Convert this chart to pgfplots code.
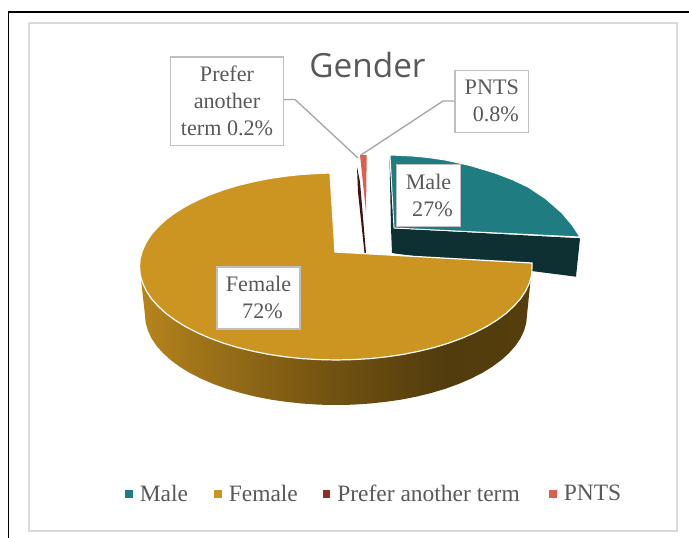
\documentclass[border=0pt]{standalone}
\usepackage{fontspec}
\setmainfont{Liberation Serif}
\newfontfamily\titlefont{Open Sans}
\usepackage{pgfplots}
\pgfplotsset{compat=1.18}
\definecolor{maleC}{HTML}{1F7D82}
\definecolor{maleD}{HTML}{0E3032}
\definecolor{femC}{HTML}{CC9420}
\definecolor{prefC}{HTML}{8B2E26}
\definecolor{prefD}{HTML}{3B1512}
\definecolor{pntsC}{HTML}{D9604C}
\definecolor{txtC}{HTML}{595959}
\definecolor{boxC}{HTML}{BFBFBF}
\definecolor{leadC}{HTML}{A6A6A6}
\definecolor{frameC}{HTML}{D9D9D9}
\pgfdeclarehorizontalshading{femside}{100bp}{
  color(0bp)=(femC!90!black);
  color(25bp)=(femC!90!black);
  color(31bp)=(femC!80!black);
  color(50bp)=(femC!55!black);
  color(64bp)=(femC!40!black);
  color(75bp)=(femC!42!black);
  color(100bp)=(femC!42!black)}
\newcommand{\boxfont}{\fontsize{16.6}{20.25}\selectfont}

\begin{document}
\begin{tikzpicture}
\begin{axis}[
  scale only axis, width=516.75pt, height=403.5pt,
  xmin=0, xmax=689, ymin=0, ymax=538, y dir=reverse,
  hide axis, clip=true,
  legend columns=4,
  legend cell align=left,
  legend style={at={(axis cs:125,494)}, anchor=west, draw=none, fill=none,
    inner sep=0pt, outer sep=0pt,
    font=\fontsize{17.6}{20}\selectfont\color{txtC},
    /tikz/column 1/.style={column sep=3.5pt},
    /tikz/column 2/.style={column sep=17.5pt},
    /tikz/column 3/.style={column sep=3.5pt},
    /tikz/column 4/.style={column sep=16.5pt},
    /tikz/column 5/.style={column sep=3.5pt},
    /tikz/column 6/.style={column sep=20pt},
    /tikz/column 7/.style={column sep=3.5pt}},
]
% page extent
\addplot[forget plot, draw=none] coordinates {(0,0)(689,538)};
% frames
\addplot[forget plot, black, line width=1.1pt] coordinates {(8.5,538)(8.5,12)(689,12)};
\addplot[forget plot, frameC, line width=1.2pt] coordinates {(29,23)(677,23)(677,531)(29,531)(29,23)};

% Male wedge
\addplot[forget plot, fill=maleD, draw=none] coordinates {(393.3,228.3)(580,238.3)(576,276.7)(393.3,253.3)};
\addplot[forget plot, fill=maleD, draw=none] coordinates {(389.5,157)(391,228)(392,253)(394,253)(394,228)};
\addplot[forget plot, fill=maleC, draw=white, line width=0.7pt] coordinates {
  (390,155)(412,156)(428,157.5)(445,160)(470,165.5)(495,173)(512,179.5)(528,187)(546,199)(562,213)(572,225)(580,237)
  (394,228)(390,155)};

% Female side wall and top
\addplot[forget plot, shading=femside, draw=none] coordinates {
  (139.5,266.5)(145,315)(145.7,322.8)(147.9,330.6)(151.5,338.3)(156.5,345.8)(162.9,353)(170.6,360)(179.5,366.6)
  (189.7,372.9)(200.9,378.6)(213.2,383.9)(226.4,388.7)(240.5,392.9)(255.3,396.6)(270.7,399.6)(286.6,401.9)
  (302.8,403.6)(319.3,404.7)(336,405)(352.7,404.7)(369.2,403.6)(385.4,401.9)(401.3,399.6)(416.7,396.6)
  (431.5,392.9)(445.6,388.7)(458.8,383.9)(471.1,378.6)(482.3,372.9)(492.5,366.6)(501.4,360)(509.1,353)
  (515.5,345.8)(520.5,338.3)(524.1,330.6)(526.3,322.8)(527,315)(532,266)};
\addplot[forget plot, fill=femC, draw=white, line width=0.9pt] coordinates {
  (330,173)(318.9,173.4)(301.9,174.4)(285.1,176.2)(268.8,178.6)(253,181.8)(237.7,185.5)(223.3,189.9)(209.7,194.9)
  (197.1,200.4)(185.5,206.4)(175,212.9)(165.8,219.7)(157.9,227)(151.3,234.5)(146.2,242.3)(142.5,250.3)(140.2,258.3)
  (139.5,266.5)(140.2,274.7)(142.5,282.7)(146.2,290.7)(151.3,298.5)(157.9,306)(165.8,313.3)(175,320.1)(185.5,326.6)
  (197.1,332.6)(209.7,338.1)(223.3,343.1)(237.7,347.5)(253,351.2)(268.8,354.4)(285.1,356.8)(301.9,358.6)(318.9,359.6)
  (336,360)(353.1,359.6)(370.1,358.6)(386.9,356.8)(403.2,354.4)(419,351.2)(434.3,347.5)(448.7,343.1)(462.3,338.1)
  (474.9,332.6)(486.5,326.6)(497,320.1)(506.2,313.3)(514.1,306)(520.7,298.5)(525.8,290.7)(529.5,282.7)(531.8,274.7)
  (532,263)(335,252)(330,173)};

% thin wedges
\addplot[forget plot, fill=prefD, draw=none] coordinates {(357,167)(360,182)(366,253)(364.5,253)(358,192)};
\addplot[forget plot, fill=pntsC, draw=none] coordinates {(360,155)(366.7,155)(366,212)};

% leader lines
\addplot[forget plot, leadC, line width=1pt] coordinates {(284,99.5)(295,99.5)(358,158)};
\addplot[forget plot, leadC, line width=1pt] coordinates {(455,101)(443,101)(361,155)};

\addlegendimage{legend image code/.code={\fill[maleC] (0pt,-2.6pt) rectangle (5.2pt,2.6pt);}}
\addlegendimage{legend image code/.code={\fill[femC] (0pt,-2.6pt) rectangle (5.2pt,2.6pt);}}
\addlegendimage{legend image code/.code={\fill[prefC] (0pt,-2.6pt) rectangle (5.2pt,2.6pt);}}
\addlegendimage{legend image code/.code={\fill[pntsC] (0pt,-2.6pt) rectangle (5.2pt,2.6pt);}}
\legend{Male, Female, Prefer another term, PNTS}

% title and data labels
\node[font=\titlefont\fontsize{25}{30}\selectfont, text=txtC] at (axis cs:367.5,65) {Gender};

\node[draw=boxC, line width=1.1pt, fill=white, minimum width=84.5pt, minimum height=66.5pt, inner sep=0pt,
  align=center, text=txtC, font=\boxfont] at (axis cs:227,101.2) {Prefer\\another\\term 0.2\%};
\node[draw=boxC, line width=1.1pt, fill=white, minimum width=55pt, minimum height=46.5pt, inner sep=0pt,
  align=center, text=txtC, font=\boxfont] at (axis cs:491.8,101.3) {PNTS\\\hspace*{6pt}0.8\%};
\node[draw=boxC, line width=1.1pt, fill=white, minimum width=48pt, minimum height=46.5pt, inner sep=0pt,
  align=center, text=txtC, font=\boxfont] at (axis cs:428.5,195.3) {Male\\\hspace*{6pt}27\%};
\node[draw=boxC, line width=1.1pt, fill=white, minimum width=62pt, minimum height=46.5pt, inner sep=0pt,
  align=center, text=txtC, font=\boxfont] at (axis cs:258.5,297.8) {Female\\\hspace*{6pt}72\%};
\end{axis}
\end{tikzpicture}
\end{document}
